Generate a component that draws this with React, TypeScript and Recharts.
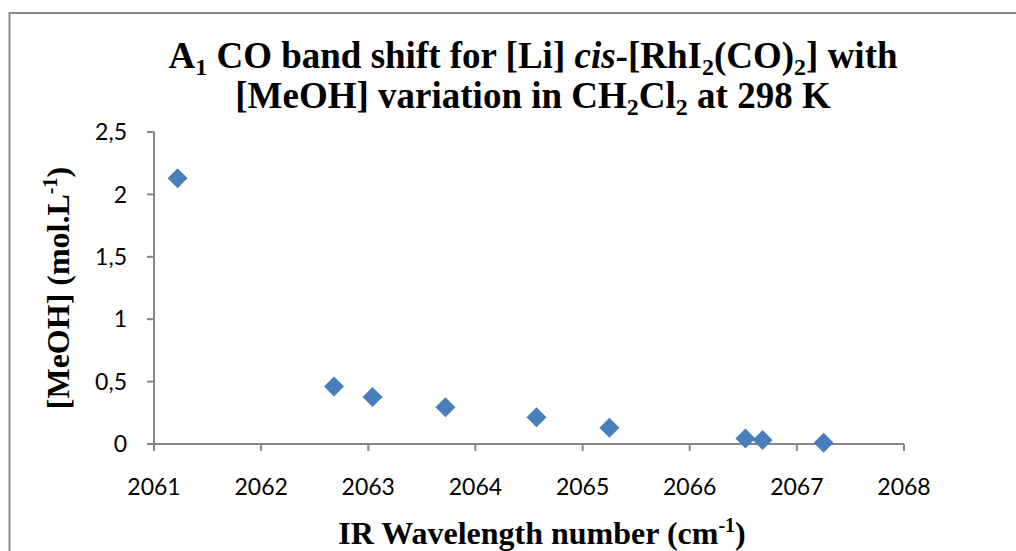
import React from "react";
import {
  ScatterChart,
  Scatter,
  XAxis,
  YAxis,
  Label,
} from "recharts";

// IR wavenumber of the A1 CO band (cm-1)
const wavenumbers = [2061.22, 2062.68, 2063.04, 2063.72, 2064.57, 2065.25, 2066.52, 2066.68, 2067.25];
// [MeOH] in CH2Cl2 (mol.L-1)
const meohConc = [2.13, 0.46, 0.377, 0.294, 0.214, 0.131, 0.045, 0.032, 0.011];

const xTicks = [2061, 2062, 2063, 2064, 2065, 2066, 2067, 2068];
const yTicks = [0, 0.5, 1, 1.5, 2, 2.5];

const W = 1016;
const H = 551;
const AXIS = "#868686";
const MARKER = "#4A7EBB";
const SERIF = "'Liberation Serif', 'Times New Roman', serif";
const SANS = "Lato, 'Open Sans', sans-serif";

const data = wavenumbers.map((x, i) => ({ x, y: meohConc[i] }));

function Diamond(props: any) {
  const { cx, cy } = props;
  if (cx == null || cy == null) return null;
  const r = 10;
  return (
    <polygon
      points={`${cx},${cy - r} ${cx + r},${cy} ${cx},${cy + r} ${cx - r},${cy}`}
      fill={MARKER}
    />
  );
}

function XTitle(props: any) {
  const vb = props.viewBox || {};
  const cx = vb.x + vb.width / 2 + 13;
  return (
    <text x={cx} y={544} textAnchor="middle" fontFamily={SERIF} fontWeight="bold" fontSize={32} fill="#000">
      IR Wavelength number (cm
      <tspan dy={-12} fontSize={20}>-1</tspan>
      <tspan dy={12}>)</tspan>
    </text>
  );
}

function YTitle(props: any) {
  const vb = props.viewBox || {};
  const cy = vb.y + vb.height / 2;
  const x = 69;
  return (
    <text
      x={x}
      y={cy}
      transform={`rotate(-90, ${x}, ${cy})`}
      textAnchor="middle"
      fontFamily={SERIF}
      fontWeight="bold"
      fontSize={32}
      fill="#000"
    >
      [MeOH] (mol.L
      <tspan dy={-12} fontSize={20}>-1</tspan>
      <tspan dy={12}>)</tspan>
    </text>
  );
}

export default function App() {
  return (
    <div style={{ position: "absolute", left: 0, top: 0, width: W, height: H, background: "#fff" }}>
      <ScatterChart
        width={W}
        height={H}
        margin={{ top: 132, right: 112, bottom: 47, left: 94 }}
      >
        <XAxis
          type="number"
          dataKey="x"
          domain={[2061, 2068]}
          ticks={xTicks}
          allowDataOverflow
          height={60}
          stroke={AXIS}
          strokeWidth={2}
          tickSize={7}
          tickMargin={28}
          tick={{ fill: "#000", fontFamily: SANS, fontSize: 23 }}
        >
          <Label content={<XTitle />} />
        </XAxis>
        <YAxis
          type="number"
          dataKey="y"
          domain={[0, 2.5]}
          ticks={yTicks}
          width={60}
          stroke={AXIS}
          strokeWidth={2}
          tickSize={7}
          tickMargin={20}
          tickFormatter={(v: number) => String(v).replace(".", ",")}
          tick={{ fill: "#000", fontFamily: SANS, fontSize: 23 }}
        >
          <Label content={<YTitle />} />
        </YAxis>
        <Scatter data={data} shape={<Diamond />} isAnimationActive={false} />
      </ScatterChart>
      <svg
        width={W}
        height={H}
        style={{ position: "absolute", left: 0, top: 0, pointerEvents: "none" }}
      >
        <rect x={9.5} y={13} width={W + 40} height={H + 40} fill="none" stroke="#8a8a8a" strokeWidth={2} />
        <text x={533} y={68} textAnchor="middle" fontFamily={SERIF} fontWeight="bold" fontSize={37} fill="#000">
          A<tspan dy={7} fontSize={24}>1</tspan>
          <tspan dy={-7}> CO band shift for [Li] </tspan>
          <tspan fontStyle="italic">cis</tspan>
          <tspan>-[RhI</tspan>
          <tspan dy={7} fontSize={24}>2</tspan>
          <tspan dy={-7}>(CO)</tspan>
          <tspan dy={7} fontSize={24}>2</tspan>
          <tspan dy={-7}>] with</tspan>
        </text>
        <text x={533} y={108} textAnchor="middle" fontFamily={SERIF} fontWeight="bold" fontSize={37} fill="#000">
          [MeOH] variation in CH<tspan dy={7} fontSize={24}>2</tspan>
          <tspan dy={-7}>Cl</tspan>
          <tspan dy={7} fontSize={24}>2</tspan>
          <tspan dy={-7}> at 298 K</tspan>
        </text>
      </svg>
    </div>
  );
}
